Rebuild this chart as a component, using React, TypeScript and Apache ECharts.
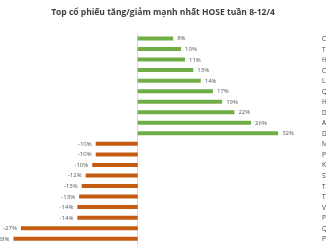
import React, { useEffect, useRef } from "react";
import * as echarts from "echarts";

const titleText = "Top cổ phiếu tăng/giảm mạnh nhất HOSE tuần 8-12/4";
const categories = [
  "CTI", "TIX", "HAR", "CMX", "LIX", "QCG", "HAI", "DAH", "ASM", "DRH",
  "MCG", "PXS", "KMR", "SVT", "TDW", "TTF", "VRC", "PXI", "QBS", "PXT",
];
const gainers = [8.1, 9.9, 10.8, 12.7, 14.4, 17.2, 19.3, 22.1, 25.9, 32.1];
const losers = [-9.6, -9.6, -10.4, -11.9, -12.8, -13.4, -13.8, -13.8, -26.7, -28.4];

export default function App() {
  const ref = useRef<HTMLDivElement>(null);
  useEffect(() => {
    if (!ref.current) return;
    const chart = echarts.init(ref.current, undefined, { renderer: "svg" });
    const gData = categories.map((_, i) => (i < gainers.length ? gainers[i] : null));
    const lData = categories.map((_, i) => (i >= gainers.length ? losers[i - gainers.length] : null));
    const fmt = (p: any) => Math.round(p.value) + "%";
    chart.setOption({
      animation: false,
      title: {
        text: titleText,
        left: "center",
        top: 2,
        textStyle: { fontFamily: "Open Sans", fontSize: 8.5, fontWeight: "bold", color: "#404040" },
      },
      grid: { left: 6.5, right: 13.3, top: 33.2, bottom: 1, containLabel: false, outerBoundsMode: "none" },
      xAxis: {
        type: "value",
        min: -30,
        max: 40,
        show: false,
        splitLine: { show: false },
      },
      yAxis: [
        {
          type: "category",
          data: categories,
          inverse: true,
          axisLine: { show: true, onZero: true, lineStyle: { color: "#D9D9D9", width: 1 } },
          axisTick: { show: false },
          axisLabel: { show: false },
        },
        {
          type: "category",
          data: categories,
          inverse: true,
          position: "right",
          axisLine: { show: false },
          axisTick: { show: false },
          axisLabel: { show: true, margin: 9.3, fontFamily: "Open Sans", fontSize: 6.5, color: "#404040" },
        },
      ],
      series: [
        {
          type: "bar",
          data: gData,
          yAxisIndex: 0,
          barWidth: 4,
          barGap: "-100%",
          itemStyle: { color: "#70AD47" },
          label: { show: true, position: "right", distance: 4, formatter: fmt, fontFamily: "Open Sans", fontSize: 6, color: "#595959" },
        },
        {
          type: "bar",
          data: lData,
          yAxisIndex: 0,
          barWidth: 4,
          barGap: "-100%",
          itemStyle: { color: "#C55A11" },
          label: { show: true, position: "left", distance: 4, formatter: fmt, fontFamily: "Open Sans", fontSize: 6, color: "#595959" },
        },
      ],
    });
    return () => chart.dispose();
  }, []);
  return <div ref={ref} style={{ position: "fixed", left: 0, top: 0, width: 326, height: 245 }} />;
}
